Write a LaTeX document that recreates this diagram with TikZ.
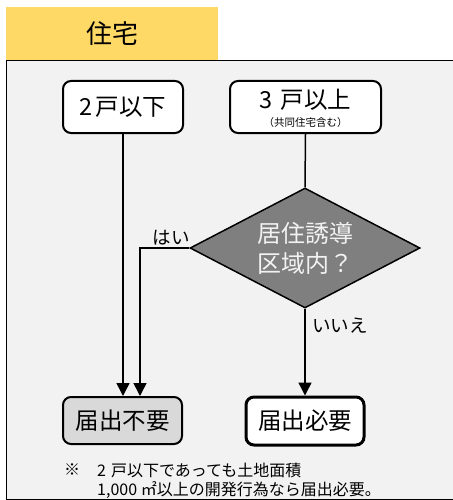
\documentclass[tikz,border=0pt]{standalone}
\usepackage{fontspec}
\setmainfont{Noto Sans CJK JP}
\usetikzlibrary{shapes.geometric,arrows.meta}
\definecolor{tabyellow}{HTML}{FFD966}
\definecolor{panelgray}{HTML}{F2F2F2}
\definecolor{dgray}{HTML}{7F7F7F}
\definecolor{lgray}{HTML}{D9D9D9}
\begin{document}
\begin{tikzpicture}[x=1pt,y=-1pt,
  box/.style={draw=black, line width=2pt, rounded corners=8pt, fill=white, inner sep=0pt, font=\fontsize{23.5}{28}\selectfont},
  arr/.style={line width=1.5pt, -{Triangle[length=13pt,width=13pt]}},
  conn/.style={line width=1.5pt},
  lbl/.style={font=\fontsize{18.5}{22}\selectfont, inner sep=0pt},
  note/.style={font=\fontsize{16}{20}\selectfont, inner sep=0pt, anchor=west}]
\useasboundingbox (0,0) rectangle (452,500);
\fill[white] (0,0) rectangle (452,500);
\node[fill=tabyellow, minimum width=212pt, minimum height=53pt, inner sep=0pt, anchor=north west, font=\fontsize{26}{30}\selectfont] (tab) at (6,7) {住宅};
\node[draw=black, line width=1pt, fill=panelgray, minimum width=460pt, minimum height=439pt, anchor=north west, inner sep=0pt] (panel) at (6,60) {};
% top boxes
\node[box, minimum width=120pt, minimum height=52pt] (a) at (123,107) {2\hspace{3pt}戸以下};
\node[box, minimum width=151pt, minimum height=52pt] (b) at (305.5,107) {};
\node[inner sep=0pt, font=\fontsize{23.5}{28}\selectfont] (b1) at (305.5,100) {3\hspace{8pt}戸以上};
\node[inner sep=0pt, font=\fontsize{10.5}{12}\selectfont] (b2) at (305.5,123) {（共同住宅含む）};
% decision
\node[diamond, draw=black, line width=1.5pt, fill=dgray, minimum width=230pt, minimum height=120pt, aspect=1.917, inner sep=0pt, text=panelgray, align=center, font=\fontsize{24}{30}\selectfont] (d) at (305,248) {居住誘導\\区域内？};
% bottom boxes
\node[box, fill=lgray, minimum width=119pt, minimum height=47pt] (nf) at (122.5,420.5) {届出不要};
\node[box, line width=3pt, minimum width=118pt, minimum height=48pt] (nr) at (305,421) {届出必要};
% connectors
\coordinate (hx) at (140,248);
\draw[conn] (b.south) -- (d.north);
\draw[arr] (a.south) -- (a.south |- nf.north);
\draw[arr] (d.west) -- (hx) -- (hx |- nf.north);
\draw[arr] (d.south) -- (nr.north);
% labels
\node[lbl] (yes) at (171,238) {はい};
\node[lbl, anchor=west] (no) at (312,326) {いいえ};
% note
\node[note] (n0) at (64,470) {※};
\node[note] (n1) at (97,470) {2\hspace{5pt}戸以下であっても土地面積};
\node[note] (n2) at (97,490) {1,000 ㎡以上の開発行為なら届出必要。};
\end{tikzpicture}
\end{document}
